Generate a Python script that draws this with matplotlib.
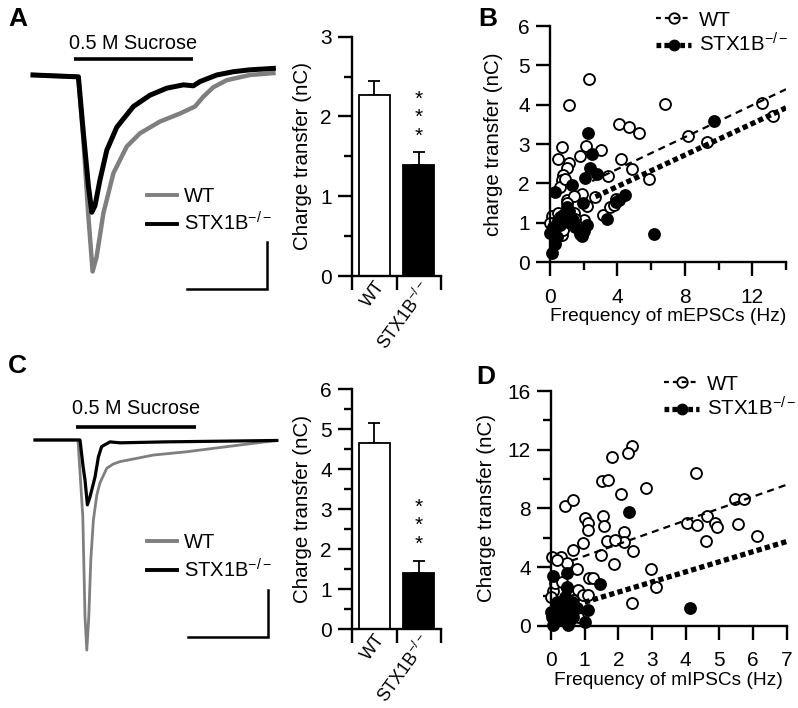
import matplotlib
matplotlib.use('Agg')
import matplotlib.pyplot as plt
from matplotlib.lines import Line2D
import numpy as np

plt.rcParams['font.family'] = ['Liberation Sans', 'DejaVu Sans']
plt.rcParams['mathtext.fontset'] = 'custom'
plt.rcParams['mathtext.rm'] = 'Liberation Sans'
plt.rcParams['mathtext.it'] = 'Liberation Sans:italic'
plt.rcParams['mathtext.bf'] = 'Liberation Sans:bold'

KO = r'STX1B$^{-/-}$'
GROUPS = ['WT', KO]

# ---------------- Panel A traces (time s, current nA) ----------------
A_wt_t = [0, 2.27, 2.52, 2.77, 2.98, 3.18, 3.52, 4.02, 4.69, 5.35, 6.35, 7.35, 8.10, 8.52, 9.02, 9.69, 10.85, 12.02]
A_wt_i = [0, -0.04, -1.38, -3.01, -4.18, -3.87, -2.94, -2.09, -1.52, -1.24, -0.99, -0.82, -0.67, -0.46, -0.26, -0.11, 0.0, 0.04]
A_ko_t = [0, 2.27, 2.52, 2.77, 2.94, 3.10, 3.35, 3.69, 4.19, 5.02, 5.85, 6.69, 7.52, 8.02, 8.35, 9.19, 10.02, 10.85, 12.02]
A_ko_i = [0, -0.04, -1.24, -2.36, -2.92, -2.78, -2.23, -1.60, -1.11, -0.67, -0.43, -0.28, -0.21, -0.23, -0.14, 0.0, 0.07, 0.11, 0.14]
A_sucrose = [2.05, 8.0]

# ---------------- Panel C traces ----------------
C_wt_t = [0, 2.15, 2.39, 2.50, 2.59, 2.69, 2.79, 2.92, 3.09, 3.25, 3.59, 3.92, 4.25, 5.09, 5.92, 7.59, 9.25, 10.92, 12.09]
C_wt_i = [0, 0, -1.63, -3.76, -4.47, -3.76, -2.55, -1.70, -1.17, -0.91, -0.60, -0.51, -0.46, -0.39, -0.32, -0.25, -0.16, -0.07, -0.01]
C_ko_t = [0, 2.25, 2.40, 2.50, 2.62, 2.75, 3.00, 3.17, 3.33, 3.75, 4.25, 6.50, 12.09]
C_ko_i = [0, 0, -0.55, -0.85, -1.38, -1.21, -0.79, -0.36, -0.14, -0.04, -0.06, -0.04, -0.01]
C_sucrose = [2.05, 8.05]

# ---------------- Bar data ----------------
A_bar_mean = [2.27, 1.39]
A_bar_sem = [0.18, 0.16]
C_bar_mean = [4.67, 1.42]
C_bar_sem = [0.50, 0.30]

# ---------------- Panel B scatter ----------------
B_wt_x = [2.3, 1.1, 6.8, 4.1, 4.7, 5.3, 0.7, 2.15, 3.0, 0.45, 1.8, 1.1, 4.2, 1.0, 4.85, 0.8, 3.45, 0.7, 5.9,
          8.2, 9.3, 12.55, 13.25, 1.88, 2.65, 1.0, 1.4, 1.0, 3.15, 3.55, 3.9, 2.0, 0.1, 0.7, 0.3, 1.4, 0.2,
          0.8, 1.6, 0.0, 0.45, 0.6, 0.9, 2.2, 1.5, 0.5, 3.8]
B_wt_y = [4.65, 4.0, 4.02, 3.51, 3.42, 3.28, 2.93, 2.95, 2.84, 2.63, 2.7, 2.52, 2.62, 2.38, 2.37, 2.2, 2.18, 2.08, 2.12,
          3.21, 3.05, 4.03, 3.72, 1.74, 1.64, 1.58, 1.67, 1.49, 1.19, 1.4, 1.6, 1.07, 1.18, 0.69, 0.73, 1.25, 1.0,
          0.82, 0.91, 0.98, 1.25, 1.9, 2.1, 1.42, 1.1, 0.95, 1.45]
B_ko_x = [2.27, 2.47, 2.4, 2.77, 2.08, 1.33, 0.3, 1.98, 4.45, 4.1, 0.99, 3.36, 0.59, 1.38, 2.18, 1.78, 0.2, 0.4,
          0.1, 6.17, 0.0, 1.48, 0.59, 9.7, 3.9, 1.9, 0.8, 1.1, 0.3, 0.5, 1.2, 2.0]
B_ko_y = [3.27, 2.74, 2.38, 2.25, 2.13, 1.96, 1.78, 1.49, 1.70, 1.58, 1.41, 1.09, 1.15, 1.07, 0.94, 0.70, 0.9, 0.64,
          0.22, 0.71, 0.74, 0.9, 0.94, 3.58, 1.52, 0.65, 1.2, 1.3, 0.45, 1.05, 1.0, 0.8]
B_fit_wt = dict(intercept=1.55, slope=0.203, x0=2.5, x1=14)
B_fit_ko = dict(intercept=1.12, slope=0.20, x0=2.7, x1=14)

# ---------------- Panel D scatter ----------------
D_wt_x = [2.40, 2.30, 1.80, 1.50, 1.70, 4.31, 2.82, 2.07, 0.42, 0.66, 5.47, 5.74, 1.01, 1.11, 1.11, 0.96,
          1.53, 1.58, 2.18, 2.17, 1.67, 1.90, 2.43, 1.48, 1.87, 2.97, 3.12, 2.40, 4.05, 4.35, 4.64, 4.87,
          4.92, 4.60, 5.56, 6.13, 0.64, 0.29, 0.47, 0.76, 0.02, 0.17, 1.13, 1.26, 0.81, 0.96, 1.11, 0.05,
          0.0, 0.66, 0.56, 0.76, 0.81, 0.12, 0.32, 0.47]
D_wt_y = [12.25, 11.8, 11.5, 9.86, 9.93, 10.39, 9.41, 8.95, 8.16, 8.57, 8.61, 8.61, 7.32, 6.98, 6.52, 5.61,
          7.48, 6.8, 6.41, 5.73, 5.8, 5.84, 5.09, 4.82, 4.2, 3.86, 2.66, 1.52, 7.02, 6.86, 7.5, 7.02,
          6.7, 5.8, 6.93, 6.14, 5.16, 4.7, 4.25, 3.84, 4.7, 4.48, 3.23, 3.23, 2.43, 2.09, 2.09, 2.36,
          1.98, 1.75, 1.3, 0.84, 0.61, 2.89, 3.0, 2.55]
D_ko_x = [2.33, 4.13, 1.46, 1.11, 1.01, 0.05, 0.47, 0.47, 0.42, 0.32, 0.17, 0.02, 0.07, 0.51, 0.66, 0.76,
          0.61, 0.27, 0.47, 0.17, 0.0, 0.56, 0.37]
D_ko_y = [7.73, 1.23, 2.84, 1.07, 0.27, 3.39, 3.57, 2.61, 1.98, 1.52, 1.18, 0.61, 0.05, 0.05, 0.61, 1.18,
          1.64, 0.61, 0.95, 1.64, 0.95, 0.39, 0.39]
D_fit_wt = dict(intercept=3.94, slope=0.81, x0=0.6, x1=7)
D_fit_ko = dict(intercept=0.91, slope=0.69, x0=1.0, x1=7)

W, H = 798, 708
fig = plt.figure(figsize=(W / 100, H / 100), dpi=100)

def px_axes(x0, y0, x1, y1):
    return fig.add_axes([x0 / W, 1 - y1 / H, (x1 - x0) / W, (y1 - y0) / H])

TICK_FS = 15
YLAB_FS = 14.8
GRAY = '#7f7f7f'
SPINE_LW = 1.7
TICK_LEN = 10
MINOR_LEN = 5.5

def trace_panel(box, xlim, ylim, twt, iwt, tko, iko, suc, suc_y, text_y, sb, leg_y, lw_wt, lw_ko):
    ax = px_axes(*box)
    ax.set_xlim(*xlim)
    ax.set_ylim(*ylim)
    ax.axis('off')
    ax.plot(twt, iwt, color=GRAY, lw=lw_wt, solid_joinstyle='round')
    ax.plot(tko, iko, color='black', lw=lw_ko, solid_joinstyle='round')
    ax.plot(suc, [suc_y, suc_y], color='black', lw=2.6, solid_capstyle='butt')
    ax.text(np.mean(suc), text_y, '0.5 M Sucrose', ha='center', va='center', fontsize=14.3)
    # scale bar: 4 s, 1 nA
    sx, sy = sb
    ax.plot([sx - 4, sx, sx], [sy, sy, sy + 1], color='black', lw=1.8, solid_joinstyle='miter')
    handles = [Line2D([], [], color=GRAY, lw=2.8), Line2D([], [], color='black', lw=2.8)]
    ax.legend(handles, GROUPS, loc='upper left', bbox_to_anchor=(0.47, leg_y), frameon=False,
              fontsize=14.5, handlelength=1.5, handletextpad=0.35, labelspacing=0.3, borderpad=0,
              borderaxespad=0)
    return ax

trace_panel((20, 30, 290, 300), (-0.65, 12.85), (-4.787, 0.957), A_wt_t, A_wt_i, A_ko_t, A_ko_i,
            A_sucrose, 0.34, 0.68, (11.7, -4.55), 0.42, 3.2, 3.6)
trace_panel((20, 390, 290, 660), (-0.75, 12.75), (-4.681, 1.064), C_wt_t, C_wt_i, C_ko_t, C_ko_i,
            C_sucrose, 0.28, 0.66, (11.65, -4.19), 0.47, 2.0, 2.3)

def style_axes(ax):
    for s in ['top', 'right']:
        ax.spines[s].set_visible(False)
    for s in ['left', 'bottom']:
        ax.spines[s].set_linewidth(SPINE_LW)
    ax.tick_params(which='major', direction='out', length=TICK_LEN, width=SPINE_LW, labelsize=TICK_FS)
    ax.tick_params(which='minor', direction='out', length=MINOR_LEN, width=SPINE_LW)
    ax.tick_params(axis='y', which='major', pad=4.5)
    ax.tick_params(axis='x', which='major', pad=8.5)

def bar_panel(box, means, sems, ymax):
    ax = px_axes(*box)
    style_axes(ax)
    xpos = np.arange(len(means)) + 0.5
    ax.bar(xpos, means, width=0.7, color=['white', 'black'], edgecolor='black', linewidth=1.3, zorder=2)
    ax.errorbar(xpos, means, yerr=[[0] * len(sems), sems], fmt='none', ecolor='black', elinewidth=1.3,
                capsize=4.5, capthick=1.3, zorder=1)
    ax.set_xlim(0, 2)
    ax.set_ylim(0, ymax)
    ax.set_yticks(np.arange(0, ymax + 0.01, 1))
    ax.set_yticks(np.arange(0.5, ymax, 1), minor=True)
    ax.set_xticks([0, 1, 2])
    ax.set_xticklabels([])
    ax.set_xticks(xpos, minor=True)
    ax.set_xticklabels(GROUPS, minor=True, rotation=54, ha='right', va='top', rotation_mode='anchor',
                       fontsize=12.8)
    ax.tick_params(axis='x', which='minor', length=0, pad=1.5)
    ax.set_ylabel('Charge transfer (nC)', fontsize=YLAB_FS, labelpad=6)
    # significance stars
    top = means[1] + sems[1]
    step = ymax / 3 * 0.23
    for k in range(3):
        ax.text(xpos[1], top + step * (k + 0.9), '*', ha='center', va='center', fontsize=15)
    return ax

bar_panel((352, 36.7, 441, 276), A_bar_mean, A_bar_sem, 3)
bar_panel((352, 389.3, 441, 629.3), C_bar_mean, C_bar_sem, 6)

def scatter_panel(box, wx, wy, kx, ky, fw, fk, xlim, ylim, xmaj, xmin, ymaj, ymin, xlabel, ylabel,
                  leg_anchor, ylabelpad):
    ax = px_axes(*box)
    style_axes(ax)
    ax.set_xlim(*xlim)
    ax.set_ylim(*ylim)
    ax.scatter(wx, wy, s=62, facecolor='white', edgecolor='black', linewidth=1.35, zorder=2, clip_on=False)
    ax.scatter(kx, ky, s=62, facecolor='black', edgecolor='black', linewidth=1.35, zorder=3, clip_on=False)
    xf = np.array([fw['x0'], fw['x1']])
    ax.plot(xf, fw['intercept'] + fw['slope'] * xf, color='black', lw=1.6, dashes=(3.2, 2.3), zorder=4)
    xk = np.array([fk['x0'], fk['x1']])
    ax.plot(xk, fk['intercept'] + fk['slope'] * xk, color='black', lw=3.8, dashes=(1.0, 0.62), zorder=4,
            dash_capstyle='butt')
    ax.set_xticks(xmaj)
    ax.set_xticks(xmin, minor=True)
    ax.set_yticks(ymaj)
    ax.set_yticks(ymin, minor=True)
    ax.set_xlabel(xlabel, fontsize=13.8, labelpad=1)
    ax.set_ylabel(ylabel, fontsize=YLAB_FS, labelpad=ylabelpad)
    handles = [Line2D([], [], color='black', lw=1.6, dashes=(2.2, 1.8), marker='o', markersize=7.5,
                      mfc='none', mec='black', mew=1.35),
               Line2D([], [], color='black', lw=3.8, dashes=(0.9, 0.6), marker='o', markersize=7.5,
                      mfc='black', mec='black')]
    ax.legend(handles, GROUPS, loc='upper left', bbox_to_anchor=leg_anchor, frameon=False, fontsize=14.8,
              handlelength=1.7, handletextpad=0.4, labelspacing=0.15, borderpad=0, borderaxespad=0)
    return ax

scatter_panel((550, 26, 786, 262), B_wt_x, B_wt_y, B_ko_x, B_ko_y, B_fit_wt, B_fit_ko, (0, 14), (0, 6),
              [0, 4, 8, 12], [2, 6, 10, 14], np.arange(0, 7), [],
              'Frequency of mEPSCs (Hz)', 'charge transfer (nC)', (0.45, 1.065), 11)
scatter_panel((551, 391, 786.7, 625.7), D_wt_x, D_wt_y, D_ko_x, D_ko_y, D_fit_wt, D_fit_ko, (0, 7), (0, 16),
              np.arange(0, 8), [], [0, 4, 8, 12, 16], [2, 6, 10, 14],
              'Frequency of mIPSCs (Hz)', 'Charge transfer (nC)', (0.48, 1.07), 8)

for lab, x, y in [('A', 8, 19), ('B', 478, 19), ('C', 8, 366), ('D', 476, 377)]:
    fig.text(x / W, 1 - y / H, lab, fontsize=19, fontweight='bold', ha='left', va='center')

fig.savefig('out.png', dpi=100)
